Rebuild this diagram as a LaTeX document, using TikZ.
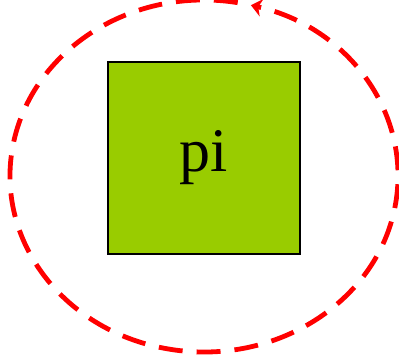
\documentclass[tikz,border=0pt]{standalone}
\usepackage{fontspec}
\setmainfont{Liberation Serif}
\usetikzlibrary{arrows.meta}
\definecolor{leafgreen}{RGB}{153,204,0}

\begin{document}
\begin{tikzpicture}[x=1pt,y=1pt]
  \useasboundingbox (0,0) rectangle (399,355);
  \node[draw,line width=1.5pt,fill=leafgreen,minimum size=192pt] (pi) at (204,197) {\fontsize{62}{62}\selectfont pi};
  \coordinate (loopc) at (204,179);
  \draw[red,line width=4.8pt,dash pattern=on 24pt off 14pt,-{Stealth[length=11pt,width=18pt]}]
    (loopc) ++(80:194 and 176) arc[start angle=80,end angle=436,x radius=194,y radius=176];
\end{tikzpicture}
\end{document}
